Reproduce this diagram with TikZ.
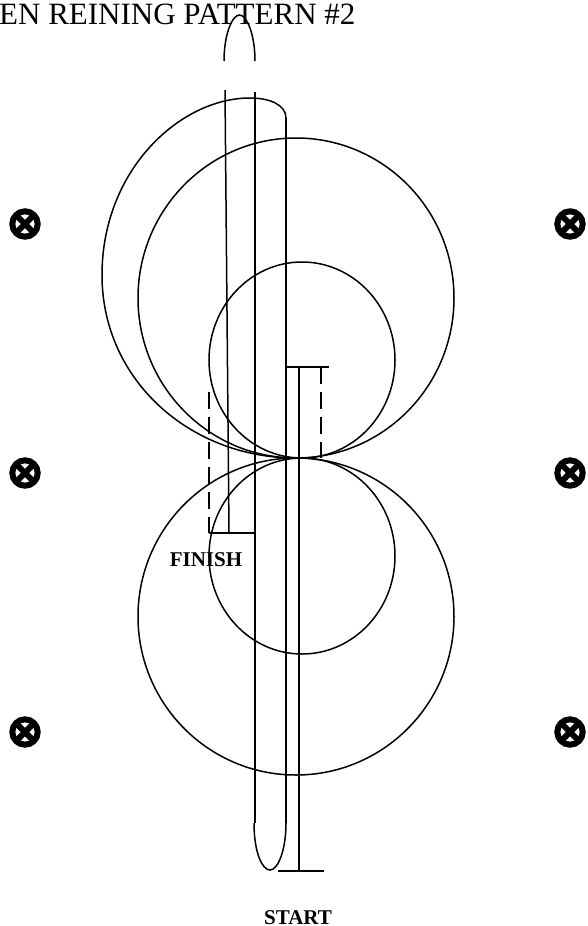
\documentclass[tikz,border=0pt]{standalone}
\usepackage{fontspec}
\setmainfont{Liberation Serif}
\tikzset{
  ln/.style={draw=black,line width=1.5pt},
  dsh/.style={ln,dash pattern=on 17pt off 8pt},
  lbl/.style={font=\bfseries\fontsize{21}{24}\selectfont,inner sep=0pt,anchor=base},
  pics/marker/.style={code={
    \draw[line width=6pt] (0,0) circle (12.7pt);
    \draw[line width=6pt] (-9.5pt,-9.5pt) -- (9.5pt,9.5pt) (-9.5pt,9.5pt) -- (9.5pt,-9.5pt);
  }}
}
\begin{document}
\begin{tikzpicture}[x=1pt,y=-1pt]
\useasboundingbox (0,0) rectangle (587,926);
\node[font=\fontsize{31}{34}\selectfont,inner sep=0pt,anchor=base west] (title) at (-1,24) {EN REINING PATTERN \#2};
% circles
\draw[ln] (296,298) ellipse (158pt and 160pt);
\draw[ln] (296,616.5) ellipse (158pt and 158.5pt);
\draw[ln] (302,360) ellipse (93pt and 98pt);
\draw[ln] (302,556) ellipse (93pt and 98pt);
% large sweep
\draw[ln] (296,458) .. controls (190,458) and (102,380) .. (102,275)
  .. controls (102,170) and (180,98) .. (250,98)
  .. controls (270,98) and (286,105) .. (286,118);
% arches
\draw[ln] (224,61) .. controls (224,35) and (232,15) .. (239.5,15)
  .. controls (247,15) and (255,35) .. (255,61);
\draw[ln] (254,823) .. controls (254,852) and (262,870) .. (270,870)
  .. controls (278,870) and (286,850) .. (286,823);
% verticals
\draw[ln] (225,90) -- (229,533);
\draw[ln] (255,92) -- (255,823);
\draw[ln] (286,118) -- (286,823);
\draw[ln] (299,366) -- (299,871);
\draw[ln] (278,871) -- (324,871);
\draw[ln] (285,367) -- (329,367);
\draw[ln] (209,533) -- (255,533);
\draw[dsh] (321,367) -- (321,458);
\draw[dsh] (209,392) -- (209,533);
% labels
\node[lbl] (finish) at (206,566) {FINISH};
\node[lbl] (start) at (298,924.5) {START};
% markers
\foreach \x/\y in {25/224,570/224,25/473,570/473,25/732,570/732}
  \pic at (\x,\y) {marker};
\end{tikzpicture}
\end{document}
